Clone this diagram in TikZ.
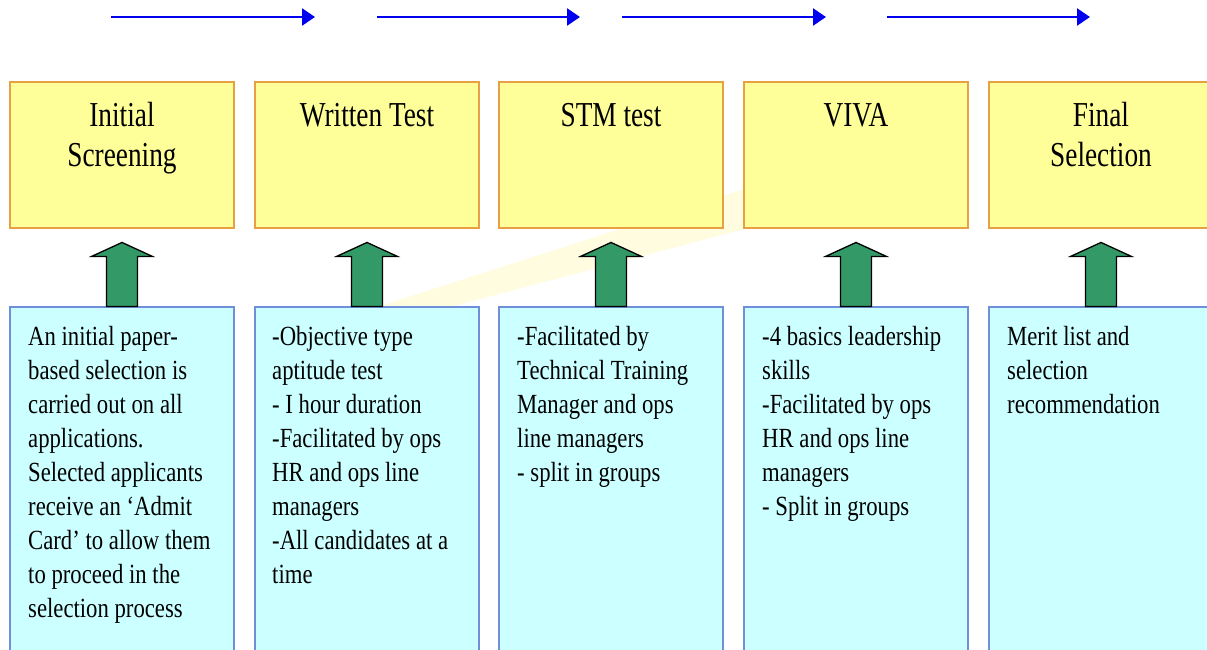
\documentclass[tikz,border=0pt]{standalone}
\usepackage{fontspec}
\setmainfont{Liberation Serif}
\newfontfamily\bodyfont[FakeStretch=0.82]{Liberation Serif}
\newfontfamily\titlefont[FakeStretch=0.78]{Liberation Serif}
\usetikzlibrary{calc,arrows.meta}
\definecolor{boxyellow}{HTML}{FFFF99}
\definecolor{yellowedge}{HTML}{E8A045}
\definecolor{boxcyan}{HTML}{CCFFFF}
\definecolor{cyanedge}{HTML}{6F8FD8}
\definecolor{arrowgreen}{HTML}{339966}
\definecolor{swoosh}{HTML}{FFFCE0}
\newcommand\greenarrowup[1]{%
  \draw[garrow] ($(#1.north)+(-15.5,0)$) -- ($(#1.north)+(-15.5,-50)$)
    -- ($(#1.north)+(-30.5,-50)$) -- ($(#1.north)+(0,-64)$)
    -- ($(#1.north)+(30.5,-50)$) -- ($(#1.north)+(15.5,-50)$)
    -- ($(#1.north)+(15.5,0)$) -- cycle;}
\begin{document}
\begin{tikzpicture}[x=1pt,y=-1pt,
  ybox/.style={draw=yellowedge,fill=boxyellow,line width=1.3pt,minimum width=224pt,minimum height=146pt,inner sep=0pt},
  cbox/.style={draw=cyanedge,fill=boxcyan,line width=1.1pt,minimum width=224pt,minimum height=393pt,inner sep=0pt},
  titletext/.style={inner sep=0pt,anchor=base,font=\titlefont\fontsize{35}{40}\selectfont},
  bodytext/.style={inner sep=0pt,anchor=base west,font=\bodyfont\fontsize{27.7}{34}\selectfont},
  garrow/.style={draw=black,fill=arrowgreen,line width=1.3pt,line join=miter},
  toparrow/.style={draw={rgb,255:red,0;green,0;blue,240},line width=2.4pt,-{Triangle[length=13pt,width=17pt]}}
]
\useasboundingbox (0,0) rectangle (1207,649);
\clip (0,0) rectangle (1207,649);
\fill[white] (0,0) rectangle (1207,649);
% faint background swoosh
\fill[swoosh] (377,307) -- (450,307) -- (748,228) -- (748,188) -- cycle;
% top arrows
\coordinate (a1s) at (111,17); \coordinate (a1e) at (315,17);
\coordinate (a2s) at (377,17); \coordinate (a2e) at (580,17);
\coordinate (a3s) at (622,17); \coordinate (a3e) at (826,17);
\coordinate (a4s) at (887,17); \coordinate (a4e) at (1090,17);
\draw[toparrow] (a1s) -- (a1e);
\draw[toparrow] (a2s) -- (a2e);
\draw[toparrow] (a3s) -- (a3e);
\draw[toparrow] (a4s) -- (a4e);
% yellow stage boxes
\node[ybox] (y1) at (122,155) {};
\node[ybox] (y2) at (367,155) {};
\node[ybox] (y3) at (611,155) {};
\node[ybox] (y4) at (856,155) {};
\node[ybox] (y5) at (1101,155) {};
% cyan description boxes
\node[cbox] (c1) at (122,503.5) {};
\node[cbox] (c2) at (367,503.5) {};
\node[cbox] (c3) at (611,503.5) {};
\node[cbox] (c4) at (856,503.5) {};
\node[cbox] (c5) at (1101,503.5) {};
% green arrows
\greenarrowup{c1}
\greenarrowup{c2}
\greenarrowup{c3}
\greenarrowup{c4}
\greenarrowup{c5}
% titles
\node[titletext] (t1) at (122,126) {\parbox[t]{224pt}{\centering Initial\\Screening}};
\node[titletext] (t2) at (367,126) {\parbox[t]{224pt}{\centering Written Test}};
\node[titletext] (t3) at (611,126) {\parbox[t]{224pt}{\centering STM test}};
\node[titletext] (t4) at (856,126) {\parbox[t]{224pt}{\centering VIVA}};
\node[titletext] (t5) at (1101,126) {\parbox[t]{224pt}{\centering Final\\Selection}};
% descriptions
\node[bodytext] (d1) at (28,345) {\parbox[t]{215pt}{\raggedright An initial paper-\\based selection is\\carried out on all\\applications.\\Selected applicants\\receive an ‘Admit\\Card’ to allow them\\to proceed in the\\selection process}};
\node[bodytext] (d2) at (272,345) {\parbox[t]{215pt}{\raggedright -Objective type\\aptitude test\\- I hour duration\\-Facilitated by ops\\HR and ops line\\managers\\-All candidates at a\\time}};
\node[bodytext] (d3) at (517,345) {\parbox[t]{215pt}{\raggedright -Facilitated by\\Technical Training\\Manager and ops\\line managers\\- split in groups}};
\node[bodytext] (d4) at (762,345) {\parbox[t]{215pt}{\raggedright -4 basics leadership\\skills\\-Facilitated by ops\\HR and ops line\\managers\\- Split in groups}};
\node[bodytext] (d5) at (1007,345) {\parbox[t]{215pt}{\raggedright Merit list and\\selection\\recommendation}};
\end{tikzpicture}
\end{document}
